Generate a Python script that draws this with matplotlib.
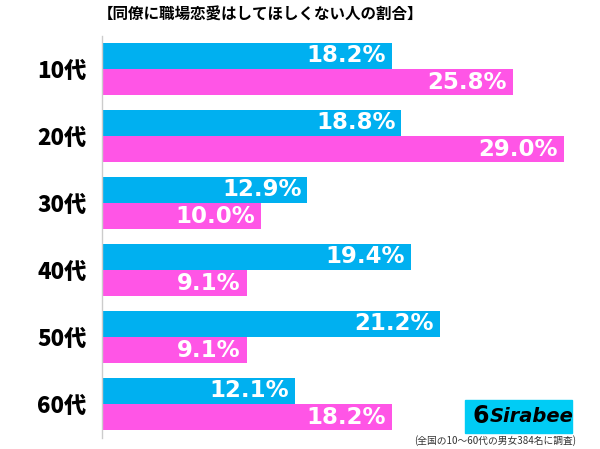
import matplotlib
matplotlib.use("Agg")
import matplotlib.pyplot as plt
from matplotlib.patches import Rectangle
import numpy as np

plt.rcParams['font.family'] = ['Noto Sans CJK JP', 'DejaVu Sans']

categories = ["10代", "20代", "30代", "40代", "50代", "60代"]
blue_vals = [18.2, 18.8, 12.9, 19.4, 21.2, 12.1]
pink_vals = [25.8, 29.0, 10.0, 9.1, 9.1, 18.2]
title = "【同僚に職場恋愛はしてほしくない人の割合】"
note = "(全国の10～60代の男女384名に調査)"

BLUE = "#00B0F0"
PINK = "#FF55E6"

W, H = 600, 449
fig = plt.figure(figsize=(W / 100, H / 100), dpi=100)

ax_left, ax_right = 102, 600
ax_top, ax_bottom = 35.5, 437.5
ax = fig.add_axes([ax_left / W, 1 - ax_bottom / H, (ax_right - ax_left) / W, (ax_bottom - ax_top) / H])

px_per_pct = 15.93
ax.set_xlim(0, (ax_right - ax_left) / px_per_pct)
n = len(categories)
ax.set_ylim(n - 0.5, -0.5)

y = np.arange(n)
bh = 0.39
off = 0.2
ax.barh(y - off, blue_vals, height=bh, color=BLUE, edgecolor='none')
ax.barh(y + off, pink_vals, height=bh, color=PINK, edgecolor='none')

dx = 6 / px_per_pct
for i in range(n):
    ax.text(blue_vals[i] - dx, y[i] - off, f"{blue_vals[i]:.1f}%", ha='right', va='center',
            color='white', fontsize=16.5, fontweight='bold', family=['DejaVu Sans'])
    ax.text(pink_vals[i] - dx, y[i] + off, f"{pink_vals[i]:.1f}%", ha='right', va='center',
            color='white', fontsize=16.5, fontweight='bold', family=['DejaVu Sans'])

for s in ['top', 'right', 'bottom']:
    ax.spines[s].set_visible(False)
ax.spines['left'].set_color('#cccccc')
ax.spines['left'].set_linewidth(1)
ax.set_xticks([])
ax.set_yticks(y)
ax.set_yticklabels(categories, fontsize=16, fontweight='black')
ax.tick_params(axis='y', length=0, pad=11)

fig.text(260 / W, 1 - 15 / H, title, ha='center', va='center', fontsize=11.2, fontweight='bold')

# logo
fig.patches.append(Rectangle((465 / W, 1 - 433 / H), 107 / W, 33 / H, transform=fig.transFigure,
                             color="#00CCF5", zorder=5))
fig.text(532 / W, 1 - 417 / H, "Sirabee", ha='center', va='center', fontsize=14, fontweight='bold',
         style='italic', color='black', zorder=6, family=['DejaVu Sans'])
fig.text(481 / W, 1 - 416 / H, "6", ha='center', va='center', fontsize=17, fontweight='bold',
         color='black', zorder=6, family=['DejaVu Sans'])

fig.text(576 / W, 1 - 441 / H, note, ha='right', va='center', fontsize=7, color='#333333')

fig.savefig("out.png", dpi=100)
